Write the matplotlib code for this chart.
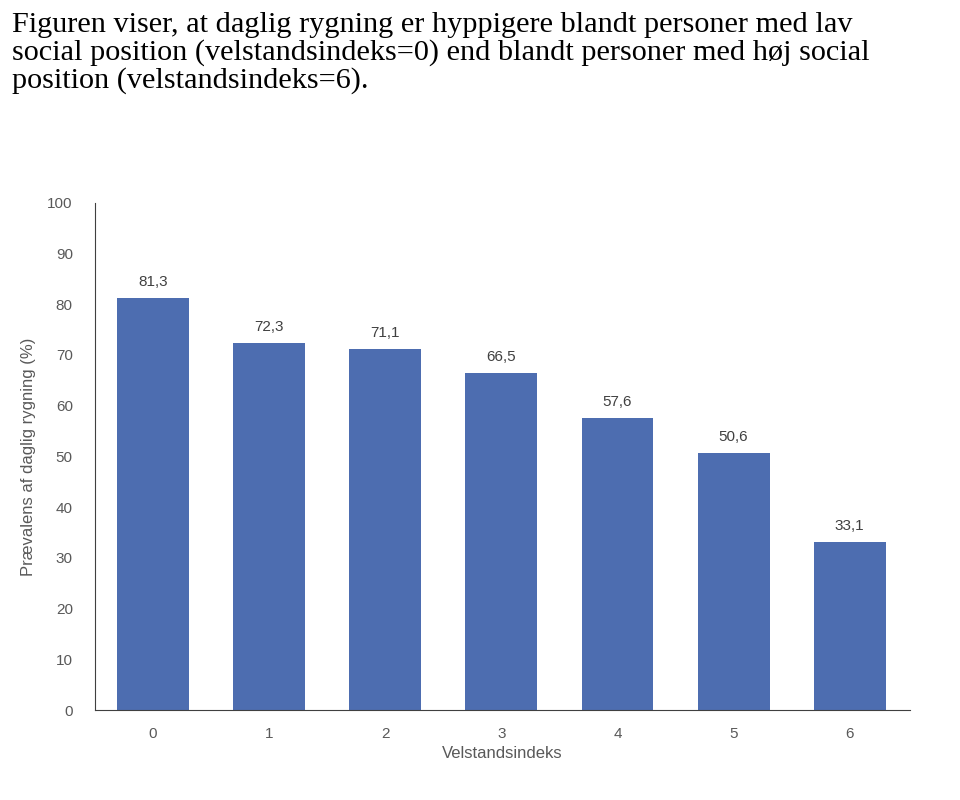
import matplotlib
matplotlib.use("Agg")
import matplotlib.pyplot as plt

categories = ["0", "1", "2", "3", "4", "5", "6"]
values = [81.3, 72.3, 71.1, 66.5, 57.6, 50.6, 33.1]
labels = ["81,3", "72,3", "71,1", "66,5", "57,6", "50,6", "33,1"]
yticks = list(range(0, 101, 10))

plt.rcParams["font.family"] = "Liberation Sans"
fig = plt.figure(figsize=(9.6, 8), dpi=100)
fig.text(0.012, 0.985,
         "Figuren viser, at daglig rygning er hyppigere blandt personer med lav\n"
         "social position (velstandsindeks=0) end blandt personer med høj social\n"
         "position (velstandsindeks=6).",
         ha="left", va="top", fontsize=21.8, family="Liberation Serif",
         linespacing=1.05, color="black")

ax = fig.add_axes([0.099, 0.1125, 0.849, 0.634])
x = list(range(len(categories)))
ax.bar(x, values, width=0.62, color="#4D6DB0", zorder=2)
for xi, v, lab in zip(x, values, labels):
    ax.text(xi, v + 1.8, lab, ha="center", va="bottom", fontsize=11, color="#404040")

ax.set_xlim(-0.5, 6.52)
ax.set_ylim(0, 100)
ax.set_yticks(yticks)
ax.set_xticks(x)
ax.set_xticklabels(categories)
ax.tick_params(axis="both", length=0, labelsize=11, labelcolor="#595959")
ax.tick_params(axis="y", pad=16)
ax.tick_params(axis="x", pad=12)
for s in ["top", "right"]:
    ax.spines[s].set_visible(False)
ax.spines["left"].set_color("#404040")
ax.spines["bottom"].set_color("#404040")
ax.set_xlabel("Velstandsindeks", fontsize=12, color="#595959", labelpad=4)
ax.set_ylabel("Prævalens af daglig rygning (%)", fontsize=12, color="#595959", labelpad=8)

fig.savefig("out.png", dpi=100)
